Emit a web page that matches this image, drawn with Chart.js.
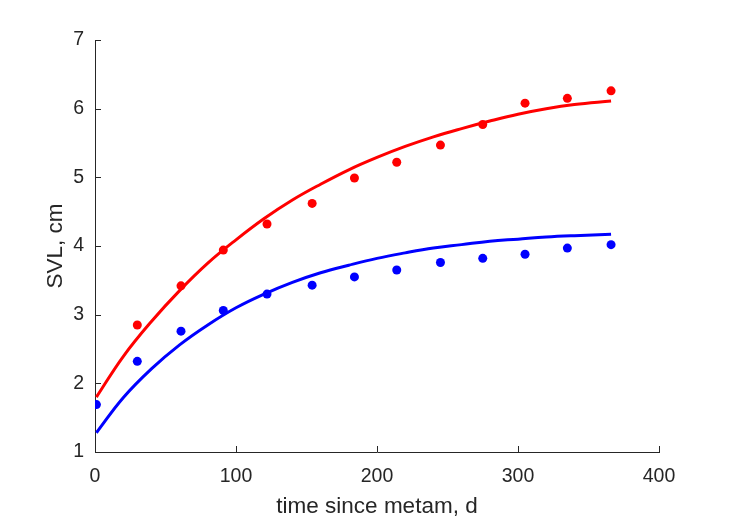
<!DOCTYPE html>
<html lang="en">
  <head>
    <meta charset="UTF-8" />
    <title>SVL growth</title>
    <script src="https://cdn.jsdelivr.net/npm/chart.js"></script>
    <style>
      html, body { margin: 0; padding: 0; background: #fff; }
      #wrap { width: 729px; height: 521px; }
    </style>
  </head>
  <body>
    <div id="wrap"><canvas id="growthChart"></canvas></div>

    <script>
      // measured sizes, days since metamorphosis
      const sampleDays = [1, 30, 61, 91, 122, 154, 184, 214, 245, 275, 305, 335, 366];
      const redDays = [30, 61, 91, 122, 154, 184, 214, 245, 275, 305, 335, 366];
      const redSVL = [2.85, 3.42, 3.94, 4.32, 4.62, 4.99, 5.22, 5.47, 5.77, 6.08, 6.15, 6.26];
      const blueSVL = [1.69, 2.32, 2.76, 3.06, 3.3, 3.43, 3.55, 3.65, 3.76, 3.82, 3.88, 3.97, 4.02];

      // fitted curves
      const fitDays = [1, 20, 40, 60, 80, 100, 120, 140, 160, 180, 200, 220, 240, 260, 280, 300, 320, 340, 366];
      const redFit = [1.8, 2.39, 2.9, 3.35, 3.75, 4.09, 4.4, 4.67, 4.9, 5.11, 5.29, 5.45, 5.59, 5.71, 5.82, 5.92, 6.0, 6.06, 6.11];
      const blueFit = [1.28, 1.79, 2.21, 2.56, 2.85, 3.1, 3.3, 3.47, 3.61, 3.72, 3.82, 3.9, 3.97, 4.02, 4.07, 4.1, 4.13, 4.15, 4.17];

      const xTicks = [0, 100, 200, 300, 400];
      const yTicks = [1, 2, 3, 4, 5, 6, 7];

      const ink = "#262626";
      const fontFamily = "'Liberation Sans', Arial, sans-serif";

      const toPoints = (xs, ys) => xs.map((x, i) => ({ x: x, y: ys[i] }));

      // MATLAB style ticks pointing into the axes
      const innerTicks = {
        id: "innerTicks",
        afterDraw(chart) {
          const { ctx, scales, chartArea } = chart;
          ctx.save();
          ctx.strokeStyle = ink;
          ctx.lineWidth = 1;
          ctx.beginPath();
          xTicks.forEach((v) => {
            const px = Math.round(scales.x.getPixelForValue(v)) + 0.5;
            ctx.moveTo(px, chartArea.bottom);
            ctx.lineTo(px, chartArea.bottom - 6);
          });
          yTicks.forEach((v) => {
            const py = Math.round(scales.y.getPixelForValue(v)) + 0.5;
            ctx.moveTo(chartArea.left, py);
            ctx.lineTo(chartArea.left + 6, py);
          });
          ctx.stroke();
          ctx.restore();
        },
      };

      new Chart(document.getElementById("growthChart"), {
        type: "scatter",
        data: {
          datasets: [
            {
              data: toPoints(fitDays, redFit),
              showLine: true,
              borderColor: "#ff0000",
              borderWidth: 3,
              pointRadius: 0,
              tension: 0.4,
            },
            {
              data: toPoints(fitDays, blueFit),
              showLine: true,
              borderColor: "#0000ff",
              borderWidth: 3,
              pointRadius: 0,
              tension: 0.4,
            },
            {
              data: toPoints(redDays, redSVL),
              backgroundColor: "#ff0000",
              borderWidth: 0,
              pointRadius: 4.5,
            },
            {
              data: toPoints(sampleDays, blueSVL),
              backgroundColor: "#0000ff",
              borderWidth: 0,
              pointRadius: 4.5,
            },
          ],
        },
        plugins: [innerTicks],
        options: {
          responsive: true,
          maintainAspectRatio: false,
          animation: false,
          layout: { padding: { top: 40, right: 70, left: 0, bottom: 0 } },
          plugins: { legend: { display: false }, tooltip: { enabled: false } },
          scales: {
            x: {
              type: "linear",
              min: 0,
              max: 400,
              afterBuildTicks: (scale) => {
                scale.ticks = xTicks.map((v) => ({ value: v }));
              },
              afterFit: (scale) => {
                scale.height = 69;
              },
              grid: { display: false, drawTicks: false },
              border: { display: true, color: ink, width: 1 },
              ticks: {
                color: ink,
                padding: 13,
                font: { family: fontFamily, size: 19.5 },
              },
              title: {
                display: true,
                text: "time since metam, d",
                color: ink,
                font: { family: fontFamily, size: 22.5 },
                padding: { top: 0, bottom: 1 },
              },
            },
            y: {
              type: "linear",
              min: 1,
              max: 7,
              afterBuildTicks: (scale) => {
                scale.ticks = yTicks.map((v) => ({ value: v }));
              },
              afterFit: (scale) => {
                scale.width = 95;
              },
              grid: { display: false, drawTicks: false },
              border: { display: true, color: ink, width: 1 },
              ticks: {
                color: ink,
                padding: 11,
                font: { family: fontFamily, size: 19.5 },
              },
              title: {
                display: true,
                text: "SVL, cm",
                color: ink,
                font: { family: fontFamily, size: 22.5 },
                padding: { top: 42, bottom: 0 },
              },
            },
          },
        },
      });
    </script>
  </body>
</html>
